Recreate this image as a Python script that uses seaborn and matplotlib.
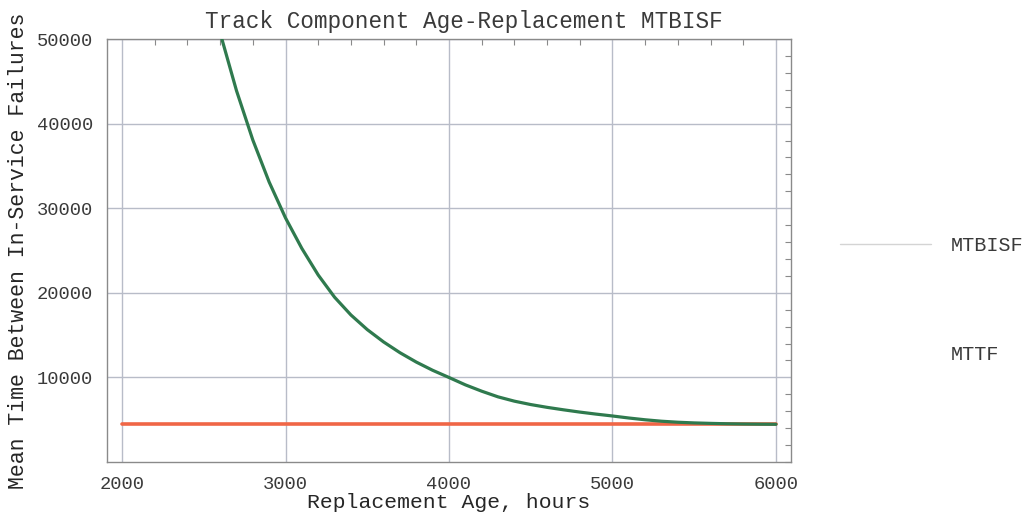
import matplotlib
matplotlib.use("Agg")
import matplotlib.pyplot as plt
from matplotlib.lines import Line2D
from matplotlib.ticker import MultipleLocator
import pandas as pd
import seaborn as sns

# Replacement age (hours) and the resulting mean times (hours)
replacement_age = [2500, 2600, 2700, 2800, 2900, 3000, 3100, 3200, 3300, 3400,
                   3500, 3600, 3700, 3800, 3900, 4000, 4100, 4200, 4300, 4400,
                   4500, 4600, 4700, 4800, 4900, 5000, 5100, 5200, 5300, 5400,
                   5500, 5600, 5700, 5800, 5900, 6000]
mtbisf = [58760, 50730, 43900, 38060, 33090, 28850, 25240, 22100, 19480, 17380,
          15650, 14190, 12920, 11810, 10840, 9990, 9120, 8370, 7700, 7190,
          6790, 6460, 6170, 5900, 5660, 5440, 5200, 4990, 4820, 4700,
          4620, 4565, 4520, 4490, 4470, 4456]

mttf_age = [2000, 3000, 4000, 5000, 6000]
mttf = [4456, 4456, 4456, 4456, 4456]

x_ticks = [2000, 3000, 4000, 5000, 6000]
y_ticks = [10000, 20000, 30000, 40000, 50000]
series_names = ["MTBISF", "MTTF"]

sns.set_style("white")
plt.rcParams["font.family"] = ["Liberation Mono", "DejaVu Sans Mono"]
plt.rcParams["text.color"] = "#3a3a3a"

fig = plt.figure(figsize=(10.28, 5.14), dpi=100)
ax = fig.add_axes([107 / 1028, 1 - 462 / 514, 684 / 1028, 423 / 514])

df_a = pd.DataFrame({"age": replacement_age, "value": mtbisf})
df_b = pd.DataFrame({"age": mttf_age, "value": mttf})

sns.lineplot(data=df_b, x="age", y="value", ax=ax, color="#f06646",
             linewidth=2.6, zorder=3)
sns.lineplot(data=df_a, x="age", y="value", ax=ax, color="#2f7a4e",
             linewidth=2.3, zorder=4)

ax.set_xlim(1908, 6092)
ax.set_ylim(0, 50000)
ax.set_xticks(x_ticks)
ax.set_yticks(y_ticks)
ax.set_xticklabels([str(t) for t in x_ticks])
ax.set_yticklabels([str(t) for t in y_ticks])
ax.xaxis.set_minor_locator(MultipleLocator(200))
ax.yaxis.set_minor_locator(MultipleLocator(2000))

ax.grid(True, which="major", color="#b8bcc8", linewidth=1.0)
ax.tick_params(which="both", direction="in", top=True, right=True,
               color="#8a8a8a")
ax.tick_params(which="major", length=0, labelsize=13.5, pad=10,
               labelcolor="#3a3a3a")
ax.tick_params(which="minor", length=4, width=0.8)
for sp in ax.spines.values():
    sp.set_color("#8a8a8a")
    sp.set_linewidth(1.0)

ax.set_xlabel("Replacement Age, hours", fontsize=15.4, labelpad=0)
ax.set_ylabel("Mean Time Between In-Service Failures", fontsize=15.5,
              labelpad=6)
ax.set_title("Track Component Age-Replacement MTBISF", fontsize=16.3,
             x=(464 - 107) / 684, pad=8)

handles = [Line2D([0], [0], color="#d4d4d4", linewidth=1.0),
           Line2D([0], [0], color="white", linewidth=0.0)]
fig.legend(handles, series_names, loc="center left",
           bbox_to_anchor=(822 / 1028, 1 - 300 / 514), frameon=False,
           fontsize=14.5, handlelength=4.5, handletextpad=1.0,
           labelspacing=4.5)

fig.savefig("out.png", dpi=100)
